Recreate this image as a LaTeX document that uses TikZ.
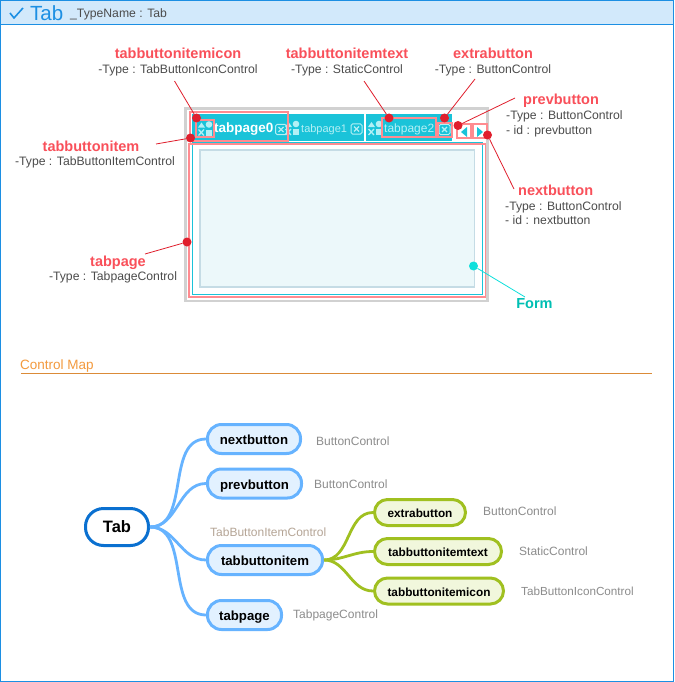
\documentclass[tikz,border=0pt]{standalone}
\usepackage{fontspec}
\setmainfont{Liberation Sans}
\definecolor{framecol}{HTML}{1C8FE3}
\definecolor{headcol}{HTML}{D2E9FB}
\definecolor{tabcol}{HTML}{1AC3D9}
\definecolor{iconcol}{HTML}{B4F0F5}
\definecolor{pinkcol}{HTML}{FF8B90}
\definecolor{labelcol}{HTML}{F9505A}
\definecolor{dotcol}{HTML}{E01F2D}
\definecolor{formcol}{HTML}{00BFB3}
\definecolor{formdotcol}{HTML}{0FE0DC}
\definecolor{pagecol}{HTML}{ECF8FA}
\definecolor{pageline}{HTML}{C5DCE5}
\definecolor{bluecol}{HTML}{66B3FF}
\definecolor{bluefill}{HTML}{E2F1FF}
\definecolor{rootcol}{HTML}{0A70D0}
\definecolor{greencol}{HTML}{A0C020}
\definecolor{greenfill}{HTML}{F1F7DC}
\definecolor{mapcol}{HTML}{F39A3E}
\definecolor{itemctrlcol}{HTML}{B5A596}
\tikzset{
  namelabel/.style={text=labelcol,font=\fontsize{14.5}{15}\selectfont\bfseries,inner sep=0pt,text height=11pt,text depth=3pt},
  typelabel/.style={text=black!70,font=\fontsize{12.2}{14}\selectfont,inner sep=0pt,text height=9pt,text depth=3pt},
  ctrllabel/.style={text=black!45,font=\fontsize{12}{14}\selectfont,inner sep=0pt,text height=9pt,text depth=3pt},
  pinkbox/.style={draw=pinkcol,line width=2pt},
  reddot/.style={circle,fill=dotcol,minimum size=9pt,inner sep=0pt},
  leader/.style={draw=dotcol,line width=0.8pt},
  bluenode/.style={draw=bluecol,fill=bluefill,line width=3pt,rounded corners=14pt,minimum height=29pt,inner sep=0pt,text height=11pt,text depth=0pt,font=\fontsize{13.2}{14}\selectfont\bfseries},
  greennode/.style={draw=greencol,fill=greenfill,line width=3pt,rounded corners=13pt,minimum height=26pt,inner sep=0pt,text height=10pt,text depth=0pt,font=\fontsize{11.8}{14}\selectfont\bfseries},
  tabicon/.pic={
    \fill[iconcol] (-3.5,-6) -- (0,-1) -- (-7,-1) -- cycle;
    \fill[iconcol] (4,-4) circle (3.3);
    \draw[iconcol,line width=1.3pt] (-6.5,1) -- (-1,7) (-1,1) -- (-6.5,7);
    \fill[iconcol] (1,1) rectangle (7,7);
  },
  closebtn/.pic={
    \draw[iconcol,line width=1pt,rounded corners=1.5pt] (-5.5,-5) rectangle (5.5,5);
    \draw[iconcol,line width=1.2pt] (-2.5,-2.5) -- (2.5,2.5) (-2.5,2.5) -- (2.5,-2.5);
  }
}
\begin{document}
\begin{tikzpicture}[x=1pt,y=-1pt]
  \useasboundingbox (0,0) rectangle (674,682);
  % Frame and title bar
  \fill[white] (0,0) rectangle (674,682);
  \fill[headcol] (1,1) rectangle (673,24);
  \draw[framecol,line width=1.2pt] (0.6,0.6) rectangle (673.4,681.4);
  \draw[framecol,line width=1pt] (1,24.5) -- (673,24.5);
  \draw[framecol,line width=1.6pt] (10,13) -- (14,18) -- (23,8);
  \node[text=framecol,font=\fontsize{20.5}{22}\selectfont,inner sep=0pt,anchor=west] (title) at (30,13.5) {Tab};
  \node[typelabel,anchor=west] (typename) at (70,15) {\_TypeName : Tab};

  % Tab control
  \draw[black!18,line width=2.6pt] (185.5,108.5) rectangle (487.5,301);
  \fill[tabcol] (192,114) rectangle (452,141);
  \fill[white] (364,114) rectangle (366,141);
  \draw[tabcol,line width=1pt] (192,142) rectangle (482,294);
  \draw[pinkcol,line width=1.6pt] (189,144) rectangle (485.5,297);
  \fill[pagecol] (200,150) rectangle (474,287);
  \draw[pageline,line width=1.8pt] (200,150) rectangle (474.5,287);
  \pic at (205,128.5) {tabicon};
  \pic at (292,128) {tabicon};
  \pic at (375,128) {tabicon};
  \pic at (281,129.5) {closebtn};
  \pic at (356.5,129) {closebtn};
  \pic at (444.5,129.5) {closebtn};
  \node[text=white,font=\fontsize{13.5}{14}\selectfont\bfseries,inner sep=0pt,anchor=west] (tab0) at (214,129.5) {tabpage0};
  \node[text=iconcol,font=\fontsize{11}{14}\selectfont,inner sep=0pt,anchor=west] (tab1) at (301,129.5) {tabpage1};
  \node[text=iconcol,font=\fontsize{12}{14}\selectfont,inner sep=0pt,anchor=west] (tab2) at (384,129.5) {tabpage2};
  \fill[tabcol] (461,132) -- (467,127) -- (467,137) -- cycle;
  \fill[tabcol] (483,132) -- (477,127) -- (477,137) -- cycle;

  % Highlights
  \draw[pinkbox] (190,112) rectangle (288,141);
  \draw[pinkbox] (195.5,120) rectangle (213.5,137);
  \draw[pinkbox] (382,118) rectangle (436,137);
  \draw[pinkbox] (438,123) rectangle (451.5,137);
  \draw[pinkbox] (456.5,124.5) rectangle (470.5,138);
  \draw[pinkbox] (472.5,124.5) rectangle (486.5,138);

  % Labels of the upper picture
  \node[namelabel] (iconname) at (178,55) {tabbuttonitemicon};
  \node[typelabel] (icontype) at (178,71) {-Type : TabButtonIconControl};
  \node[namelabel] (textname) at (347,55) {tabbuttonitemtext};
  \node[typelabel] (texttype) at (347,71) {-Type : StaticControl};
  \node[namelabel] (extraname) at (493,55) {extrabutton};
  \node[typelabel] (extratype) at (493,71) {-Type : ButtonControl};
  \node[namelabel,anchor=west] (prevname) at (523,101) {prevbutton};
  \node[typelabel,anchor=west] (prevtype) at (506,117) {-Type : ButtonControl};
  \node[typelabel,anchor=west] (previd) at (506,131) {- id : prevbutton};
  \node[namelabel,anchor=west] (nextname) at (518,191) {nextbutton};
  \node[typelabel,anchor=west] (nexttype) at (505,207) {-Type : ButtonControl};
  \node[typelabel,anchor=west] (nextid) at (505,221) {- id : nextbutton};
  \node[namelabel] (itemname) at (91,147.5) {tabbuttonitem};
  \node[typelabel] (itemtype) at (95,162.5) {-Type : TabButtonItemControl};
  \node[namelabel] (pagename) at (118,262) {tabpage};
  \node[typelabel] (pagetype) at (113,277.5) {-Type : TabpageControl};
  \node[namelabel,text=formcol] (formname) at (534.5,304.5) {Form};

  % Dots and their leaders
  \coordinate (iconend) at (174.5,81);
  \coordinate (itemend) at (156,144);
  \coordinate (textend) at (364,81);
  \coordinate (extraend) at (475,79);
  \coordinate (prevend) at (515,98);
  \coordinate (nextend) at (514,189);
  \coordinate (pageend) at (145,254);
  \coordinate (formend) at (525,297);
  \node[reddot] (icondot) at (196.5,118) {};
  \node[reddot] (itemdot) at (190.5,138) {};
  \node[reddot] (textdot) at (389,118) {};
  \node[reddot] (extradot) at (444.5,118) {};
  \node[reddot] (prevdot) at (458,125.5) {};
  \node[reddot] (nextdot) at (487.5,135) {};
  \node[reddot] (pagedot) at (187,242) {};
  \node[reddot,fill=formdotcol] (formdot) at (473.5,266) {};
  \foreach \from/\to in {iconend/icondot, itemend/itemdot, textend/textdot, extraend/extradot, prevend/prevdot, nextend/nextdot, pageend/pagedot}
    \draw[leader] (\from) -- (\to);
  \draw[leader,draw=formdotcol] (formend) -- (formdot);

  % Control Map
  \node[text=mapcol,font=\fontsize{13.5}{14}\selectfont,inner sep=0pt,anchor=west] (mapname) at (20,366) {Control Map};
  \coordinate (rulestart) at (21,373.5);
  \coordinate (ruleend) at (652,373.5);
  \draw[mapcol!90!black,line width=0.8pt] (rulestart) -- (ruleend);

  \node[draw=rootcol,fill=white,line width=3pt,rounded corners=18pt,minimum width=63pt,minimum height=37pt,inner sep=0pt,font=\fontsize{16.5}{18}\selectfont\bfseries] (tab) at (117,527) {Tab};
  \node[bluenode,minimum width=93pt] (next) at (254,439) {nextbutton};
  \node[bluenode,minimum width=94pt] (prev) at (254.5,483.5) {prevbutton};
  \node[bluenode,minimum width=115pt] (item) at (265,560) {tabbuttonitem};
  \node[bluenode,minimum width=74pt] (page) at (244.5,615) {tabpage};
  \node[greennode,minimum width=91pt] (extra) at (420,512.5) {extrabutton};
  \node[greennode,minimum width=127pt] (text) at (438,551.5) {tabbuttonitemtext};
  \node[greennode,minimum width=129pt] (icon) at (439,591) {tabbuttonitemicon};

  \foreach \to in {next,prev,item,page}
    \draw[bluecol,line width=2.8pt] (tab.east) to[out=0,in=180] (\to.west);
  \foreach \to in {extra,text,icon}
    \draw[greencol,line width=2.8pt] (item.east) to[out=0,in=180] (\to.west);

  \node[ctrllabel,anchor=west] (nextctrl) at (316,442) {ButtonControl};
  \node[ctrllabel,anchor=west] (prevctrl) at (314,485.5) {ButtonControl};
  \node[ctrllabel,anchor=west,text=itemctrlcol] (itemctrl) at (210,533) {TabButtonItemControl};
  \node[ctrllabel,anchor=west] (pagectrl) at (293,615) {TabpageControl};
  \node[ctrllabel,anchor=west] (extractrl) at (483,512) {ButtonControl};
  \node[ctrllabel,anchor=west] (textctrl) at (519,552) {StaticControl};
  \node[ctrllabel,anchor=west,font=\fontsize{11.7}{14}\selectfont] (iconctrl) at (521,592.7) {TabButtonIconControl};
\end{tikzpicture}
\end{document}
